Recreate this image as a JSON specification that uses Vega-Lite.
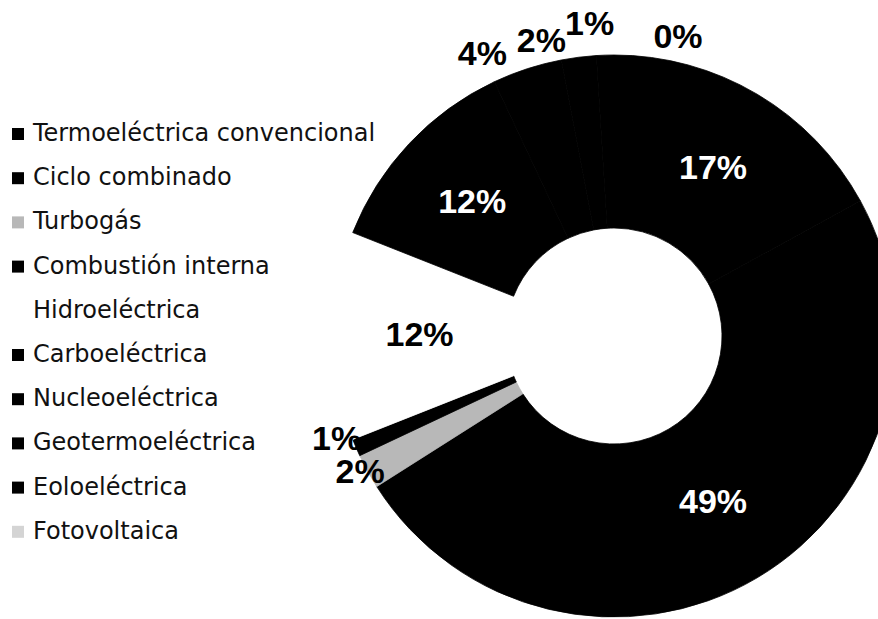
{
  "$schema": "https://vega.github.io/schema/vega-lite/v6.json",
  "width": 528,
  "height": 566,
  "autosize": {"type": "none"},
  "padding": {"left": 350, "top": 53, "right": 0, "bottom": 0},
  "background": "white",
  "config": {"view": {"stroke": null}},
  "data": {
    "values": [
      {"fuente": "Termoeléctrica convencional", "porcentaje": 17, "orden": 1, "etiqueta": "17%"},
      {"fuente": "Ciclo combinado", "porcentaje": 49, "orden": 2, "etiqueta": "49%"},
      {"fuente": "Turbogás", "porcentaje": 2, "orden": 3, "etiqueta": "2%"},
      {"fuente": "Combustión interna", "porcentaje": 1, "orden": 4, "etiqueta": "1%"},
      {"fuente": "Hidroeléctrica", "porcentaje": 12, "orden": 5, "etiqueta": "12%"},
      {"fuente": "Carboeléctrica", "porcentaje": 12, "orden": 6, "etiqueta": "12%"},
      {"fuente": "Nucleoeléctrica", "porcentaje": 4, "orden": 7, "etiqueta": "4%"},
      {"fuente": "Geotermoeléctrica", "porcentaje": 2, "orden": 8, "etiqueta": "2%"},
      {"fuente": "Eoloeléctrica", "porcentaje": 1, "orden": 9, "etiqueta": "1%"},
      {"fuente": "Fotovoltaica", "porcentaje": 0, "orden": 10, "etiqueta": "0%"}
    ]
  },
  "encoding": {
    "theta": {"field": "porcentaje", "type": "quantitative", "stack": true},
    "order": {"field": "orden", "type": "quantitative"}
  },
  "layer": [
    {
      "mark": {"type": "arc", "innerRadius": 108, "outerRadius": 281, "strokeWidth": 0.8},
      "encoding": {
        "color": {
          "field": "fuente",
          "type": "nominal",
          "scale": {
            "domain": ["Termoeléctrica convencional", "Ciclo combinado", "Turbogás", "Combustión interna", "Hidroeléctrica", "Carboeléctrica", "Nucleoeléctrica", "Geotermoeléctrica", "Eoloeléctrica", "Fotovoltaica"],
            "range": ["#000000", "#000000", "#b8b8b8", "#000000", "#ffffff", "#000000", "#000000", "#000000", "#000000", "#d4d4d4"]
          },
          "legend": {
            "title": null,
            "orient": "none",
            "legendX": -344,
            "legendY": 69,
            "padding": 0,
            "symbolType": "square",
            "symbolSize": 144,
            "symbolStrokeWidth": 0,
            "labelFont": "DejaVu Sans",
            "labelFontSize": 24,
            "labelColor": "#111111",
            "labelLimit": 500,
            "labelOffset": 3,
            "rowPadding": 20.2
          }
        },
        "stroke": {
          "field": "fuente",
          "type": "nominal",
          "scale": {
            "domain": ["Termoeléctrica convencional", "Ciclo combinado", "Turbogás", "Combustión interna", "Hidroeléctrica", "Carboeléctrica", "Nucleoeléctrica", "Geotermoeléctrica", "Eoloeléctrica", "Fotovoltaica"],
            "range": ["#000000", "#000000", "#b8b8b8", "#000000", "#ffffff", "#000000", "#000000", "#000000", "#000000", "#000000"]
          },
          "legend": null
        }
      }
    },
    {
      "mark": {"type": "text", "radius": 194.5, "font": "Liberation Sans", "fontWeight": "bold", "fontSize": 34, "baseline": "middle"},
      "encoding": {
        "detail": {"field": "fuente"},
        "text": {"condition": {"test": "indexof(['Termoeléctrica convencional','Ciclo combinado','Hidroeléctrica','Carboeléctrica'], datum.fuente) >= 0", "field": "etiqueta"}, "value": ""},
        "color": {"condition": {"test": "datum.fuente === 'Hidroeléctrica'", "value": "#000000"}, "value": "#ffffff"}
      }
    },
    {
      "mark": {"type": "text", "radius": 300, "dx": 9, "dy": -8, "font": "Liberation Sans", "fontWeight": "bold", "fontSize": 34, "baseline": "middle", "color": "#000000"},
      "encoding": {
        "detail": {"field": "fuente"},
        "text": {"condition": {"test": "datum.fuente === 'Turbogás'", "field": "etiqueta"}, "value": ""}
      }
    },
    {
      "mark": {"type": "text", "radius": 300, "dx": -2, "dy": -15, "font": "Liberation Sans", "fontWeight": "bold", "fontSize": 34, "baseline": "middle", "color": "#000000"},
      "encoding": {
        "detail": {"field": "fuente"},
        "text": {"condition": {"test": "datum.fuente === 'Combustión interna'", "field": "etiqueta"}, "value": ""}
      }
    },
    {
      "mark": {"type": "text", "radius": 300, "dx": -39, "dy": 4, "font": "Liberation Sans", "fontWeight": "bold", "fontSize": 34, "baseline": "middle", "color": "#000000"},
      "encoding": {
        "detail": {"field": "fuente"},
        "text": {"condition": {"test": "datum.fuente === 'Nucleoeléctrica'", "field": "etiqueta"}, "value": ""}
      }
    },
    {
      "mark": {"type": "text", "radius": 300, "dx": -35, "dy": 4, "font": "Liberation Sans", "fontWeight": "bold", "fontSize": 34, "baseline": "middle", "color": "#000000"},
      "encoding": {
        "detail": {"field": "fuente"},
        "text": {"condition": {"test": "datum.fuente === 'Geotermoeléctrica'", "field": "etiqueta"}, "value": ""}
      }
    },
    {
      "mark": {"type": "text", "radius": 300, "dx": -15, "dy": -11, "font": "Liberation Sans", "fontWeight": "bold", "fontSize": 34, "baseline": "middle", "color": "#000000"},
      "encoding": {
        "detail": {"field": "fuente"},
        "text": {"condition": {"test": "datum.fuente === 'Eoloeléctrica'", "field": "etiqueta"}, "value": ""}
      }
    },
    {
      "mark": {"type": "text", "radius": 300, "dx": 64, "dy": 2, "font": "Liberation Sans", "fontWeight": "bold", "fontSize": 34, "baseline": "middle", "color": "#000000"},
      "encoding": {
        "detail": {"field": "fuente"},
        "text": {"condition": {"test": "datum.fuente === 'Fotovoltaica'", "field": "etiqueta"}, "value": ""}
      }
    }
  ]
}
